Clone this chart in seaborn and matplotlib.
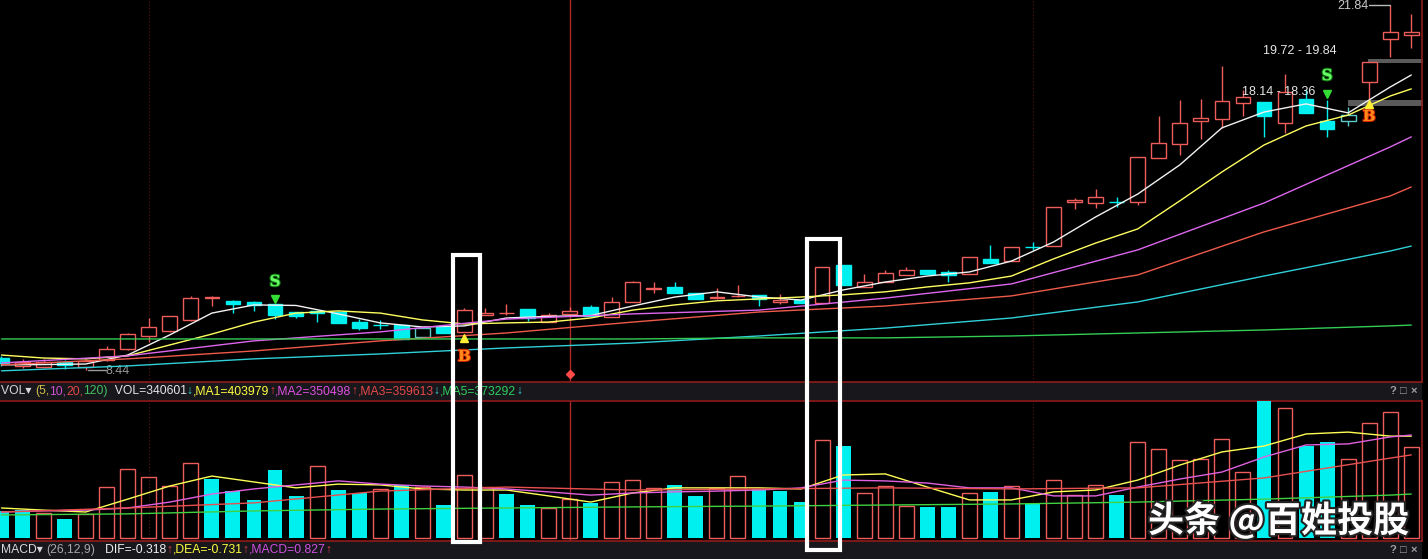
import numpy as np
import pandas as pd
import matplotlib
matplotlib.use("Agg")
import matplotlib.pyplot as plt
import matplotlib.patheffects as pe
from matplotlib.patches import Rectangle
from matplotlib.transforms import IdentityTransform, blended_transform_factory
import seaborn as sns

# daily candles
opens = [8.88, 8.59, 8.56, 8.74, 8.55, 8.81, 9.21, 9.69, 9.87, 10.28,
         11.08, 10.97, 10.94, 10.86, 10.57, 10.61, 10.57, 10.20, 10.09, 10.09,
         9.65, 10.02, 9.84, 10.46, 10.53, 10.68, 10.20, 10.50, 10.75, 10.39,
         10.94, 11.43, 11.49, 11.27, 11.10, 11.14, 11.19, 10.94, 11.01, 10.90,
         12.30, 11.49, 11.67, 11.93, 12.11, 12.04, 11.97, 12.52, 12.44, 12.96,
         12.99, 14.61, 14.57, 14.62, 14.61, 16.22, 16.74, 17.58, 17.66, 18.24,
         18.28, 17.51, 18.39, 17.58, 17.58, 19.01, 20.59, 20.74]
closes = [8.70, 8.74, 8.73, 8.63, 8.77, 9.21, 9.76, 10.02, 10.42, 11.08,
          11.12, 10.86, 10.83, 10.46, 10.42, 10.53, 10.17, 9.98, 10.08, 9.58,
          9.98, 9.80, 10.64, 10.53, 10.55, 10.35, 10.46, 10.61, 10.42, 10.94,
          11.67, 11.45, 11.27, 11.05, 11.12, 11.16, 11.05, 11.01, 10.90, 12.22,
          11.56, 11.67, 12.00, 12.11, 11.97, 11.93, 12.59, 12.37, 12.96, 12.95,
          14.42, 14.68, 14.79, 14.60, 16.26, 16.77, 17.51, 17.69, 18.32, 18.46,
          17.77, 18.65, 17.87, 17.29, 17.80, 19.75, 20.85, 20.85]
highs = [8.96, 8.85, 8.85, 8.81, 8.85, 9.32, 9.80, 10.35, 10.44, 11.16,
         11.16, 11.01, 10.97, 10.86, 10.57, 10.64, 10.61, 10.31, 10.28, 10.09,
         9.98, 10.02, 10.72, 10.72, 10.86, 10.68, 10.53, 10.75, 10.83, 11.12,
         11.71, 11.67, 11.67, 11.27, 11.45, 11.56, 11.19, 11.23, 11.01, 12.22,
         12.30, 11.97, 12.11, 12.22, 12.11, 12.11, 12.59, 13.03, 12.96, 13.14,
         14.42, 14.76, 15.09, 14.79, 16.26, 17.77, 18.35, 18.39, 19.60, 18.72,
         18.28, 19.31, 18.76, 18.35, 18.10, 19.75, 21.84, 21.51]
lows = [8.59, 8.51, 8.53, 8.48, 8.44, 8.77, 9.18, 9.47, 9.85, 10.24,
        10.79, 10.53, 10.61, 10.31, 10.35, 10.20, 10.17, 9.91, 9.95, 9.58,
        9.65, 9.80, 9.82, 10.46, 10.46, 10.24, 10.20, 10.50, 10.42, 10.39,
        10.92, 11.27, 11.27, 11.05, 11.05, 11.12, 10.79, 10.86, 10.90, 10.90,
        11.56, 11.49, 11.67, 11.93, 11.97, 11.67, 11.97, 12.37, 12.44, 12.85,
        12.99, 14.35, 14.39, 14.42, 14.50, 16.22, 16.33, 16.92, 17.33, 17.77,
        16.99, 17.14, 17.87, 16.99, 17.40, 18.35, 19.93, 20.26]
volume = [99000, 104000, 93000, 71000, 89000, 190000, 256000, 227000, 194000, 279000,
          220000, 174000, 140000, 252000, 155000, 269000, 179000, 168000, 183000, 198000,
          190000, 123000, 235000, 190000, 165000, 124000, 112000, 146000, 129000, 210000,
          217000, 185000, 199000, 158000, 185000, 232000, 182000, 174000, 133000, 366000,
          342000, 168000, 195000, 120000, 114000, 114000, 168000, 170000, 193000, 128000,
          217000, 161000, 198000, 161000, 357000, 332000, 292000, 295000, 369000, 246000,
          520000, 485000, 342000, 357000, 295000, 428000, 469000, 340601]
vol_up = [0, 0, 1, 0, 1, 1, 1, 1, 1, 1,
          0, 0, 0, 0, 0, 1, 0, 0, 1, 0,
          1, 0, 1, 1, 0, 0, 1, 1, 0, 1,
          1, 1, 0, 0, 1, 1, 0, 0, 0, 1,
          0, 1, 1, 1, 0, 0, 1, 0, 1, 0,
          1, 1, 1, 0, 1, 1, 1, 1, 1, 1,
          0, 1, 0, 0, 1, 1, 1, 1]
hollow_cyan = [20, 64]

# moving average lines, read at a subset of days
fast_idx = [0, 2, 4, 6, 8, 10, 12, 14, 16, 18, 20, 22, 24, 26, 28, 30, 32, 34,
            36, 38, 40, 42, 44, 46, 48, 50, 52, 54, 56, 58, 60, 62, 64, 66, 67]
ma5 = [8.63, 8.64, 8.66, 8.99, 9.73, 10.53, 10.83, 10.81, 10.50, 10.17, 10.02, 10.06,
       10.35, 10.41, 10.44, 10.79, 11.12, 11.31, 11.12, 11.01, 11.38, 11.67, 11.89,
       12.04, 12.44, 13.14, 14.06, 14.90, 15.97, 17.33, 17.91, 18.21, 17.88, 18.83, 19.27]
ma10 = [8.99, 8.88, 8.85, 8.96, 9.36, 9.76, 10.20, 10.53, 10.61, 10.53, 10.28, 10.13,
        10.17, 10.20, 10.35, 10.64, 10.83, 10.98, 11.05, 11.12, 11.20, 11.31, 11.49,
        11.64, 11.89, 12.52, 13.10, 13.62, 14.65, 15.71, 16.70, 17.40, 17.80, 18.50, 18.76]
slow_idx = [0, 6, 12, 18, 24, 30, 36, 42, 48, 54, 60, 66, 67]
ma20 = [8.70, 8.96, 9.51, 9.84, 10.31, 10.50, 10.64, 11.08, 11.60, 12.85, 14.57, 16.63, 17.00]
ma30 = [8.63, 8.85, 9.14, 9.51, 9.80, 10.20, 10.57, 10.79, 11.16, 11.93, 13.51, 14.83, 15.16]
ma60 = [8.41, 8.59, 8.85, 9.03, 9.25, 9.43, 9.69, 9.98, 10.35, 10.94, 11.89, 12.81, 12.99]
ma120 = [9.58, 9.58, 9.58, 9.58, 9.58, 9.58, 9.62, 9.62, 9.69, 9.80, 9.91, 10.06, 10.09]

vol_ma5 = [112, 104, 97, 145, 194, 231, 209, 187, 201, 198, 183, 179, 179, 157, 134, 168, 187, 187,
           187, 183, 235, 239, 190, 142, 142, 172, 179, 216, 272, 321, 343, 388, 395, 380, 380]
vol_ma10 = [97, 101, 104, 112, 134, 164, 183, 198, 213, 201, 194, 190, 183, 172, 160, 168, 172, 175,
            179, 187, 216, 213, 205, 187, 187, 157, 157, 190, 220, 246, 302, 347, 351, 377, 384]
vol_ma20 = [97, 112, 131, 175, 190, 179, 183, 187, 183, 187, 224, 298, 310]
vol_ma120 = [86, 90, 101, 108, 112, 116, 119, 123, 127, 134, 145, 160, 164]

# signals: day, letter, letter price, arrow price
signals = [(13, "S", 11.67, 11.05), (22, "B", 8.92, 9.62),
           (63, "S", 19.23, 18.57), (65, "B", 17.73, 18.21)]
zone_lo = [19.72, 18.14]
zone_hi = [19.84, 18.36]
high_label = 21.84
low_label = 8.44

sns.set_theme(style="dark", rc={"axes.facecolor": "black", "figure.facecolor": "black"})
plt.rcParams["font.family"] = ["Liberation Sans", "DejaVu Sans"]

W, H = 1428, 559
fig = plt.figure(figsize=(W / 100, H / 100), dpi=100)
BORDER = "#8e1b1b"
RED = "#ee5c5c"
CYAN = "#00f0f0"

# header strips
for top in (382, 541):
    hb = fig.add_axes([0, 1 - (top + 18) / H, 1422 / W, 18 / H])
    hb.set_facecolor("#17171c")
    hb.set_xticks([])
    hb.set_yticks([])
    for s in hb.spines.values():
        s.set_visible(False)

ax = fig.add_axes([0, 1 - 382 / H, 1422 / W, 382 / H])
axv = fig.add_axes([0, 1 - 541 / H, 1422 / W, 140 / H])
for a in (ax, axv):
    a.set_facecolor("black")
    a.grid(False)
    a.set_xticks([])
    a.set_yticks([])
    a.set_xlim(-0.07, 67.51)
    for s in a.spines.values():
        s.set_color(BORDER)
        s.set_linewidth(1.2)
    a.spines["left"].set_visible(False)
    for d in (7, 49):
        a.axvline(d, color="#5c1414", lw=0.8, ls=(0, (1, 2)))
    a.axvline(27, color="#b02828", lw=1)
ax.spines["top"].set_visible(False)
ax.set_ylim(8.0, 22.024)
axv.set_ylim(-11190, 511010)

df = pd.DataFrame({"o": opens, "c": closes, "h": highs, "l": lows,
                   "v": volume, "vu": vol_up})

# candles
for i, r in df.iterrows():
    lo, hi = min(r.o, r.c), max(r.o, r.c)
    if i in hollow_cyan:
        edge, face = "#5ccaca", "black"
    elif r.c >= r.o:
        edge, face = RED, "black"
    else:
        edge, face = CYAN, CYAN
    ax.vlines(i, r.l, lo, color=edge, lw=1)
    ax.vlines(i, hi, r.h, color=edge, lw=1)
    ax.bar(i, max(hi - lo, 0.005), bottom=lo, width=0.7, facecolor=face,
           edgecolor=edge, lw=1, zorder=3)

# moving averages
for idx, vals, col in [(fast_idx, ma5, "#f2f2f2"), (fast_idx, ma10, "#ffff60"),
                       (slow_idx, ma20, "#dd66ee"), (slow_idx, ma30, "#ee5a4a"),
                       (slow_idx, ma60, "#30d0d8"), (slow_idx, ma120, "#33cc55")]:
    sns.lineplot(x=idx, y=vals, ax=ax, color=col, lw=1, zorder=4)

# price zones and labels
for lo_, hi_, start in zip(zone_lo, zone_hi, [64.95, 64.0]):
    ax.fill_between([start, 67.6], lo_, hi_, color="#5a5a5a", lw=0, zorder=2)
ax.text(61.7, 20.15, f"{zone_lo[0]:.2f} - {zone_hi[0]:.2f}", color="#e6e6e6",
        fontsize=9, ha="center", va="center", zorder=6)
ax.text(60.7, 18.65, f"{zone_lo[1]:.2f} - {zone_hi[1]:.2f}", color="#e6e6e6",
        fontsize=9, ha="center", va="center", zorder=6)
ax.plot([65.0, 66.0], [high_label, high_label], color="#bbbbbb", lw=1)
ax.text(64.95, high_label - 0.03, f"{high_label:.2f}", color="#cccccc", fontsize=9,
        ha="right", va="center")
ax.plot([4.1, 4.95], [low_label, low_label], color="#9a9a9a", lw=1)
ax.text(4.95, low_label - 0.05, f"{low_label:.2f}", color="#9a9a9a", fontsize=9,
        ha="left", va="center")

# buy / sell signals
for d, letter, py, ay in signals:
    if letter == "S":
        ax.text(d, py, "S", color="#66ff66", fontsize=11, weight="bold",
                family="DejaVu Serif", ha="center", va="center", zorder=7,
                path_effects=[pe.withStroke(linewidth=1.5, foreground="#117711")])
        ax.plot(d, ay, marker="v", ms=6, color="#33dd33", zorder=7)
    else:
        ax.text(d, py, "B", color="#ff8c1a", fontsize=11, weight="bold",
                family="DejaVu Serif", ha="center", va="center", zorder=7,
                path_effects=[pe.withStroke(linewidth=1.5, foreground="#cc2200")])
        ax.plot(d, ay, marker="^", ms=6, color="#ffee33", zorder=7)
ax.plot(27, 8.29, marker="D", ms=4, color="#ff4a4a", zorder=7)

# volume bars
up = df[df.vu == 1]
dn = df[df.vu == 0]
axv.bar(up.index, up.v, width=0.71, facecolor="none", edgecolor=RED, lw=1, zorder=3)
axv.bar(dn.index, dn.v, width=0.71, color=CYAN, lw=0, zorder=3)
for idx, vals, col in [(fast_idx, vol_ma5, "#ffff55"), (fast_idx, vol_ma10, "#e060e0"),
                       (slow_idx, vol_ma20, "#e85050"), (slow_idx, vol_ma120, "#40d040")]:
    sns.lineplot(x=idx, y=np.array(vals) * 1000, ax=axv, color=col, lw=1, zorder=4)

# highlight boxes spanning both panels
tr = blended_transform_factory(ax.transData, fig.transFigure)
for x0, x1, ytop, ybot in [(21.46, 22.74, 255, 542), (38.28, 39.83, 239, 550)]:
    fig.add_artist(Rectangle((x0, 1 - ybot / H), x1 - x0, (ybot - ytop) / H,
                             transform=tr, fill=False, edgecolor="white", lw=3, zorder=10))

# header texts
renderer = fig.canvas.get_renderer()


def runs(x, y, parts, size=8.7):
    for s, c in parts:
        t = fig.text(x, y, s, color=c, fontsize=size, transform=IdentityTransform(),
                     ha="left", va="center", zorder=8)
        x = t.get_window_extent(renderer).x1
    return x


UP_C, DN_C = "#e84040", "#40d8d8"
runs(1, H - 391, [("VOL\u25be ", "#d8d8d8"),
                  ("(5,", "#d2c04a"), ("10,", "#d050d0"), ("20,", "#e04848"),
                  ("120)", "#40c060"), ("  VOL=340601", "#e6e6e6"), ("\u2193", DN_C),
                  (",MA1=403979", "#ffff40"), ("\u2191", UP_C),
                  (",MA2=350498", "#e050e0"), ("\u2191", UP_C),
                  (",MA3=359613", "#e84848"), ("\u2193", DN_C),
                  (",MA5=373292", "#30d060"), ("\u2193", DN_C)])
runs(1, H - 550, [("MACD\u25be ", "#d8d8d8"),
                  ("(26,12,9)", "#a8a8a8"), ("   DIF=-0.318", "#f0f0f0"), ("\u2191", UP_C),
                  (",DEA=-0.731", "#ffff40"), ("\u2191", UP_C),
                  (",MACD=0.827", "#d050e0"), ("\u2191", UP_C)])
for yy in (391, 550):
    for xx, s in [(1390, "?"), (1400, "\u25a1"), (1411, "\u00d7")]:
        fig.text(xx, H - yy, s, color="#a0a0a0", fontsize=8, weight="bold",
                 transform=IdentityTransform(), ha="left", va="center")

# watermark
fig.text(1148 / W, 1 - 521 / H, "头条 @百姓投股", fontsize=26, weight="bold",
         family=["Noto Sans CJK SC", "DejaVu Sans"], color="white", ha="left",
         va="center", zorder=12,
         path_effects=[pe.withStroke(linewidth=3, foreground="#222222")])

fig.savefig("out.png", dpi=100, facecolor="black")
